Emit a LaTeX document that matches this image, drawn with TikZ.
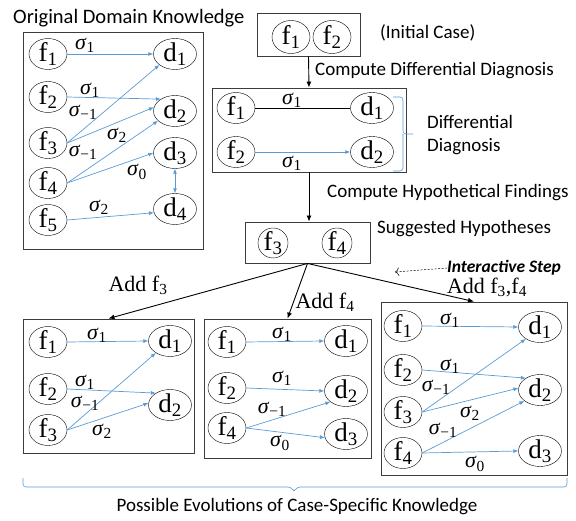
\RequirePackage{fix-cm}
\documentclass[tikz,border=0pt]{standalone}
\usepackage{fontspec}
\newfontfamily\calibri{Carlito}
\newfontfamily\serifx{Liberation Serif}
\usetikzlibrary{shapes.geometric,fit,arrows.meta}
\definecolor{relblue}{RGB}{91,155,213}
\definecolor{framegray}{RGB}{60,60,60}

\newcommand{\fsub}[1]{f\textsubscript{#1}}
\newcommand{\dsub}[1]{d\textsubscript{#1}}
\newcommand{\sgm}[1]{\textit{σ}\textsubscript{#1}}

\tikzset{
  fnode/.style={draw, ellipse, inner sep=-5pt, minimum width=38pt, minimum height=31pt,
    font=\serifx\fontsize{27}{28}\selectfont},
  dnode/.style={fnode, minimum width=43pt},
  hnode/.style={fnode, minimum width=30pt, minimum height=30pt, inner sep=-6pt},
  frame/.style={draw=framegray, line width=0.9pt, inner sep=0pt},
  rel/.style={relblue, line width=0.7pt, -{Latex[length=5pt,width=4pt]}},
  lab/.style={font=\serifx\fontsize{22}{23}\selectfont, inner sep=0pt},
  flow/.style={line width=0.9pt, -{Latex[length=6pt,width=5pt]}},
  note/.style={font=\calibri\fontsize{19}{23}\selectfont, inner sep=0pt},
  addlab/.style={font=\serifx\fontsize{22}{24}\selectfont, inner sep=0pt},
  hint/.style={font=\calibri\bfseries\itshape\fontsize{17.5}{20}\selectfont, inner sep=0pt},
  bracket/.style={relblue, line width=0.6pt, rounded corners=3pt},
}

\begin{document}
\begin{tikzpicture}[x=1pt,y=-1pt]
    \useasboundingbox (0,0) rectangle (576,521);

    % Original domain knowledge
    \node[note, font=\calibri\fontsize{20.5}{23}\selectfont, anchor=west] (ktitle) at (13,18) {Original Domain Knowledge};
    \node[frame, fit={(23,32) (203,249)}] (know) {};
    \foreach \i/\y in {1/54, 2/97, 3/143, 4/183, 5/220} {
        \node[fnode] (kf\i) at (48,\y) {\fsub{\i}};
    }
    \foreach \i/\y in {1/54, 2/111, 3/153, 4/209} {
        \node[dnode] (kd\i) at (175,\y) {\dsub{\i}};
    }
    \draw[rel] (kf1.east) -- (kd1.west);
    \draw[rel] (kf2.east) -- (kd2.140);
    \draw[rel] (kf3.east) -- (kd1.215);
    \draw[rel] (kf3.east) -- (kd2.170);
    \draw[rel] (kf4.east) -- (kd2.210);
    \draw[rel] (kf4.east) -- (kd3.west);
    \draw[rel] (kf5.east) -- (kd4.190);
    \draw[rel, {Latex[length=5pt,width=4pt]}-{Latex[length=5pt,width=4pt]}] (kd3.south) -- (kd4.north);
    \foreach \n/\x/\y/\t in {kl1/85/45/1, kl2/90/90/1, kl3/83/112/−1,
                             kl4/117/135/2, kl5/83/152/−1, kl6/137/172/0,
                             kl7/99/207/2} {
        \node[lab] (\n) at (\x,\y) {\sgm{\t}};
    }

    % Initial case
    \node[frame, fit={(257,13) (360,56)}] (init) {};
    \node[fnode, minimum height=33pt] (if1) at (291,37) {\fsub{1}};
    \node[fnode, minimum height=33pt] (if2) at (332,37) {\fsub{2}};
    \node[note, anchor=west] (initlab) at (380,33) {(Initial Case)};

    % Differential diagnosis
    \node[frame, fit={(212,88) (406,172)}] (dd) {};
    \node[fnode] (df1) at (236,108) {\fsub{1}};
    \node[fnode] (df2) at (236,152) {\fsub{2}};
    \node[dnode] (dd1) at (372,108) {\dsub{1}};
    \node[dnode] (dd2) at (372,152) {\dsub{2}};
    \draw[line width=0.7pt] (df1) -- (dd1);
    \draw[rel] (df2) -- (dd2);
    \node[lab] (dl1) at (292,100) {\sgm{1}};
    \node[lab] (dl2) at (292,163) {\sgm{1}};
    \draw[flow] (init.south) -- (dd.north);
    \node[note, anchor=west] (cdd) at (315,71) {Compute Differential Diagnosis};
    \coordinate (ddtop) at (393,97);
    \coordinate (ddbot) at (393,171);
    \draw[bracket] (ddtop) -- (403,97) -- (403,134) -- (413,134);
    \draw[bracket] (ddbot) -- (403,171) -- (403,134);
    \node[note, anchor=west, align=left] (ddlab) at (427,135) {Differential\\Diagnosis};

    % Suggested hypotheses
    \node[frame, fit={(245,222) (370,263)}] (hyp) {};
    \node[hnode] (hf3) at (273,243) {\fsub{3}};
    \node[hnode] (hf4) at (337,243) {\fsub{4}};
    \draw[flow] (dd.south) -- (dd.south |- hyp.north);
    \node[note, anchor=west] (chf) at (327,193) {Compute Hypothetical Findings};
    \node[note, anchor=west] (sugg) at (377,229) {Suggested Hypotheses};

    % Interactive step
    \node[hint, anchor=west] (istep) at (447,268) {Interactive Step};
    \coordinate (itip) at (395,272);
    \draw[dash pattern=on 2pt off 1.5pt, line width=0.5pt, -{To[length=4pt]}] (istep.west) -- (itip);

    % Evolution A: add f3
    \node[frame, fit={(23,319) (194,453)}] (evA) {};
    \foreach \i/\y in {1/342, 2/389, 3/430} {
        \node[fnode] (af\i) at (48,\y) {\fsub{\i}};
    }
    \node[dnode] (ad1) at (170,341) {\dsub{1}};
    \node[dnode] (ad2) at (170,405) {\dsub{2}};
    \draw[rel] (af1.east) -- (ad1.west);
    \draw[rel] (af2.east) -- (ad2.140);
    \draw[rel] (af3.east) -- (ad1.220);
    \draw[rel] (af3.east) -- (ad2.175);
    \foreach \n/\x/\y/\t in {al1/97/335/1, al2/85/382/1,
                             al3/85/403/−1, al4/102/431/2} {
        \node[lab] (\n) at (\x,\y) {\sgm{\t}};
    }

    % Evolution B: add f4
    \node[frame, fit={(204,319) (371,458)}] (evB) {};
    \node[fnode] (bf1) at (227,342) {\fsub{1}};
    \node[fnode] (bf2) at (227,388) {\fsub{2}};
    \node[fnode] (bf4) at (227,428) {\fsub{4}};
    \foreach \i/\y in {1/341, 2/391, 3/434} {
        \node[dnode] (bd\i) at (346,\y) {\dsub{\i}};
    }
    \draw[rel] (bf1.east) -- (bd1.west);
    \draw[rel] (bf2.east) -- (bd2.west);
    \draw[rel] (bf4.east) -- (bd2.215);
    \draw[rel] (bf4.east) -- (bd3.190);
    \foreach \n/\x/\y/\t in {bl1/282/334/1, bl2/282/378/1,
                             bl3/272/409/−1, bl4/280/443/0} {
        \node[lab] (\n) at (\x,\y) {\sgm{\t}};
    }

    % Evolution C: add f3, f4
    \node[frame, fit={(381,302) (567,475)}] (evC) {};
    \foreach \i/\y in {1/326, 2/370, 3/412, 4/453} {
        \node[fnode] (cf\i) at (403,\y) {\fsub{\i}};
    }
    \foreach \i/\y in {1/327, 2/390, 3/451} {
        \node[dnode] (cd\i) at (540,\y) {\dsub{\i}};
    }
    \draw[rel] (cf1.east) -- (cd1.west);
    \draw[rel] (cf2.east) -- (cd2.140);
    \draw[rel] (cf3.east) -- (cd1.220);
    \draw[rel] (cf3.east) -- (cd2.175);
    \draw[rel] (cf4.east) -- (cd2.215);
    \draw[rel] (cf4.east) -- (cd3.west);
    \foreach \n/\x/\y/\t in {cl1/450/320/1, cl2/450/366/1, cl3/436/387/−1,
                             cl4/470/413/2, cl5/443/430/−1, cl6/475/464/0} {
        \node[lab] (\n) at (\x,\y) {\sgm{\t}};
    }

    % Branches
    \draw[flow] (hyp.south) -- (evA.north);
    \draw[flow] (hyp.south) -- (evB.north);
    \draw[flow] (hyp.south) -- (evC.north);
    \node[addlab] (addA) at (138,285) {Add \fsub{3}};
    \node[addlab] (addB) at (325,302) {Add \fsub{4}};
    \node[addlab] (addC) at (487,287) {Add \fsub{3},\fsub{4}};

    % Possible evolutions
    \coordinate (evL) at (23,478);
    \coordinate (evR) at (567,478);
    \draw[bracket] (evL) -- (23,487) -- (291,487) -- (294,492) -- (297,487) -- (567,487) -- (evR);
    \node[note] (evlab) at (297,507) {Possible Evolutions of Case-Specific Knowledge};
\end{tikzpicture}
\end{document}
